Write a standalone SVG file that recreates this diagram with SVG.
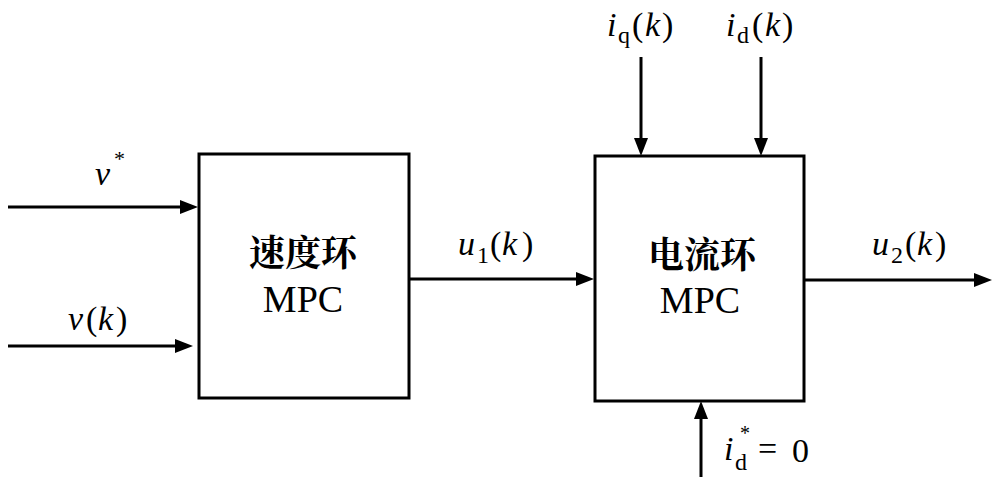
<svg xmlns="http://www.w3.org/2000/svg" width="1000" height="485" viewBox="0 0 1000 485">
<defs>
<marker id="arr" markerUnits="userSpaceOnUse" markerWidth="18" markerHeight="14" refX="8" refY="7" orient="auto">
<path d="M0,0 L18,7 L0,14 z" fill="#000"/>
</marker>
</defs>
<rect width="1000" height="485" fill="#fff"/>
<g id="connectors" fill="none" stroke="#000" stroke-width="3" marker-end="url(#arr)">
<line x1="8" y1="207" x2="188" y2="207"/>
<line x1="8" y1="346" x2="183" y2="346"/>
<line x1="409" y1="279" x2="584" y2="279"/>
<line x1="804" y1="280" x2="982" y2="280"/>
<line x1="641" y1="57" x2="641" y2="146"/>
<line x1="761" y1="57" x2="761" y2="146"/>
<line x1="701" y1="477" x2="701" y2="411"/>
</g>
<g id="speed-loop">
<rect x="199" y="154" width="210" height="244" fill="#fff" stroke="#000" stroke-width="3"/>
<text font-family="Noto Serif CJK SC" font-weight="bold" font-size="36" x="303" y="266" text-anchor="middle">速度环</text>
<text font-family="Liberation Serif" font-size="38" x="303" y="312" text-anchor="middle">MPC</text>
</g>
<g id="current-loop">
<rect x="595" y="156" width="209" height="245" fill="#fff" stroke="#000" stroke-width="3"/>
<text font-family="Noto Serif CJK SC" font-weight="bold" font-size="36" x="702" y="268" text-anchor="middle">电流环</text>
<text font-family="Liberation Serif" font-size="38" x="700" y="313" text-anchor="middle">MPC</text>
</g>
<g id="labels">
<text font-family="Liberation Serif" font-size="34"><tspan font-style="italic" x="95" y="185">v</tspan><tspan x="114" y="166" font-size="22">*</tspan></text>
<text font-family="Liberation Serif" font-size="34"><tspan font-style="italic" x="68" y="330">v</tspan><tspan x="86" y="330">(</tspan><tspan font-style="italic" x="98" y="330">k</tspan><tspan x="116" y="330">)</tspan></text>
<text font-family="Liberation Serif" font-size="34"><tspan font-style="italic" x="458" y="255">u</tspan><tspan font-size="24" x="477" y="263">1</tspan><tspan x="490" y="255">(</tspan><tspan font-style="italic" x="502" y="255">k</tspan><tspan x="522" y="255">)</tspan></text>
<text font-family="Liberation Serif" font-size="34"><tspan font-style="italic" x="872" y="255">u</tspan><tspan font-size="24" x="891" y="263">2</tspan><tspan x="905" y="255">(</tspan><tspan font-style="italic" x="917" y="255">k</tspan><tspan x="935" y="255">)</tspan></text>
<text font-family="Liberation Serif" font-size="34"><tspan font-style="italic" x="607" y="36">i</tspan><tspan font-size="24" x="618" y="43">q</tspan><tspan x="632" y="36">(</tspan><tspan font-style="italic" x="645" y="36">k</tspan><tspan x="662" y="36">)</tspan></text>
<text font-family="Liberation Serif" font-size="34"><tspan font-style="italic" x="726" y="36">i</tspan><tspan font-size="24" x="737" y="43">d</tspan><tspan x="752" y="36">(</tspan><tspan font-style="italic" x="765" y="36">k</tspan><tspan x="782" y="36">)</tspan></text>
<text font-family="Liberation Serif" font-size="34"><tspan font-style="italic" x="724" y="460">i</tspan><tspan x="740" y="440" font-size="20">*</tspan><tspan font-size="24" x="735" y="470">d</tspan><tspan x="758" y="460">=</tspan><tspan x="792" y="462">0</tspan></text>
</g>
</svg>
